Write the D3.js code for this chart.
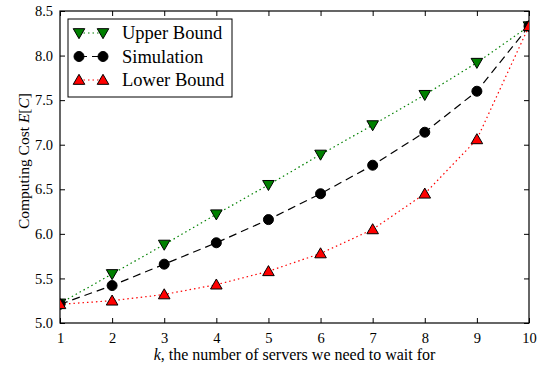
<!DOCTYPE html>
<html>
<head>
<meta charset="utf-8">
<script src="https://cdn.jsdelivr.net/npm/d3@7"></script>
<style>
  body { margin: 0; background: #fff; }
</style>
</head>
<body>
<div id="chart"></div>
<script>
const kValues = [1, 2, 3, 4, 5, 6, 7, 8, 9, 10];
const upperBound = [5.22, 5.55, 5.88, 6.22, 6.55, 6.89, 7.22, 7.56, 7.92, 8.33];
const simulation = [5.21, 5.42, 5.66, 5.90, 6.16, 6.45, 6.77, 7.14, 7.60, 8.33];
const lowerBound = [5.21, 5.25, 5.32, 5.43, 5.58, 5.78, 6.05, 6.45, 7.06, 8.33];
const yTicks = [5.0, 5.5, 6.0, 6.5, 7.0, 7.5, 8.0, 8.5];

const width = 542, height = 367;
const margin = { top: 11, right: 13, bottom: 44, left: 60 };
const FONT = "'Liberation Serif', 'DejaVu Serif', serif";

const series = [
  { name: "Upper Bound", values: upperBound, color: "#008000", dash: "1.5,3", marker: "down" },
  { name: "Simulation", values: simulation, color: "#000000", dash: "8,5", marker: "circle" },
  { name: "Lower Bound", values: lowerBound, color: "#ff0000", dash: "1.5,3", marker: "up" },
];

const svg = d3.select("#chart").append("svg")
  .attr("width", width).attr("height", height)
  .style("font-family", FONT);

const x = d3.scaleLinear().domain([1, 10]).range([margin.left, width - margin.right]);
const y = d3.scaleLinear().domain([5.0, 8.5]).range([height - margin.bottom, margin.top]);

const tick = 5;
// inward ticks on all four sides
const xBottom = d3.axisBottom(x).tickValues(kValues).tickSize(-tick).tickPadding(10).tickFormat(d3.format("d"));
const xTop = d3.axisTop(x).tickValues(kValues).tickSize(-tick).tickFormat("");
const yLeft = d3.axisLeft(y).tickValues(yTicks).tickSize(-tick).tickPadding(7).tickFormat(d3.format(".1f"));
const yRight = d3.axisRight(y).tickValues(yTicks).tickSize(-tick).tickFormat("");

function styleAxis(g) {
  g.attr("font-family", null).attr("font-size", null);
  g.select(".domain").remove();
  g.selectAll(".tick line").attr("stroke", "#000").attr("stroke-width", 1);
  g.selectAll(".tick text").attr("fill", "#000")
    .style("font-family", FONT).style("font-size", "14.5px");
}

svg.append("g").attr("transform", `translate(0,${y(5.0)})`).call(xBottom).call(styleAxis);
svg.append("g").attr("transform", `translate(0,${y(8.5)})`).call(xTop).call(styleAxis);
svg.append("g").attr("transform", `translate(${x(1)},0)`).call(yLeft).call(styleAxis);
svg.append("g").attr("transform", `translate(${x(10)},0)`).call(yRight).call(styleAxis);

svg.append("rect")
  .attr("x", x(1)).attr("y", y(8.5))
  .attr("width", x(10) - x(1)).attr("height", y(5.0) - y(8.5))
  .attr("fill", "none").attr("stroke", "#000").attr("stroke-width", 1.2);

svg.append("clipPath").attr("id", "clip")
  .append("rect").attr("x", x(1)).attr("y", y(8.5))
  .attr("width", x(10) - x(1)).attr("height", y(5.0) - y(8.5));

const line = d3.line().x((d, i) => x(kValues[i])).y(d => y(d));
const tri = d3.symbol().type(d3.symbolTriangle).size(58);

function drawMarker(g, type, cx, cy, color) {
  if (type === "circle") {
    g.append("circle").attr("cx", cx).attr("cy", cy).attr("r", 5)
      .attr("fill", color).attr("stroke", "#000").attr("stroke-width", 1);
  } else {
    const rot = type === "down" ? 180 : 0;
    g.append("path").attr("d", tri())
      .attr("transform", `translate(${cx},${cy + (type === "down" ? -1 : 1)}) rotate(${rot})`)
      .attr("fill", color).attr("stroke", "#000").attr("stroke-width", 1);
  }
}

const clipped = svg.append("g").attr("clip-path", "url(#clip)");
series.forEach(s => {
  clipped.append("path").datum(s.values)
    .attr("d", line).attr("fill", "none")
    .attr("stroke", s.color).attr("stroke-width", 1.2)
    .attr("stroke-dasharray", s.dash);
});
series.forEach(s => {
  s.values.forEach((v, i) => drawMarker(clipped, s.marker, x(kValues[i]), y(v), s.color));
});

// legend
const legend = svg.append("g").attr("transform", "translate(68,19)");
legend.append("rect").attr("width", 164).attr("height", 78)
  .attr("fill", "#fff").attr("stroke", "#000").attr("stroke-width", 1);
series.forEach((s, i) => {
  const ly = 14 + i * 23.5;
  legend.append("line").attr("x1", 11).attr("x2", 35).attr("y1", ly).attr("y2", ly)
    .attr("stroke", s.color).attr("stroke-width", 1.2).attr("stroke-dasharray", s.dash);
  drawMarker(legend, s.marker, 11, ly, s.color);
  drawMarker(legend, s.marker, 35, ly, s.color);
  legend.append("text").attr("x", 54).attr("y", ly).attr("dy", "0.35em")
    .style("font-family", FONT).style("font-size", "18.5px").text(s.name);
});

// axis labels
const xl = svg.append("text")
  .attr("x", (x(1) + x(10)) / 2).attr("y", 360)
  .attr("text-anchor", "middle").style("font-family", FONT)
  .style("font-size", "16px");
xl.append("tspan").style("font-style", "italic").text("k");
xl.append("tspan").text(", the number of servers we need to wait for");

const yl = svg.append("text")
  .attr("transform", `translate(29,161) rotate(-90)`)
  .attr("text-anchor", "middle").style("font-family", FONT)
  .style("font-size", "15.5px");
yl.append("tspan").text("Computing Cost ");
yl.append("tspan").style("font-style", "italic").text("E");
yl.append("tspan").text("[");
yl.append("tspan").style("font-style", "italic").text("C");
yl.append("tspan").text("]");
</script>
</body>
</html>
